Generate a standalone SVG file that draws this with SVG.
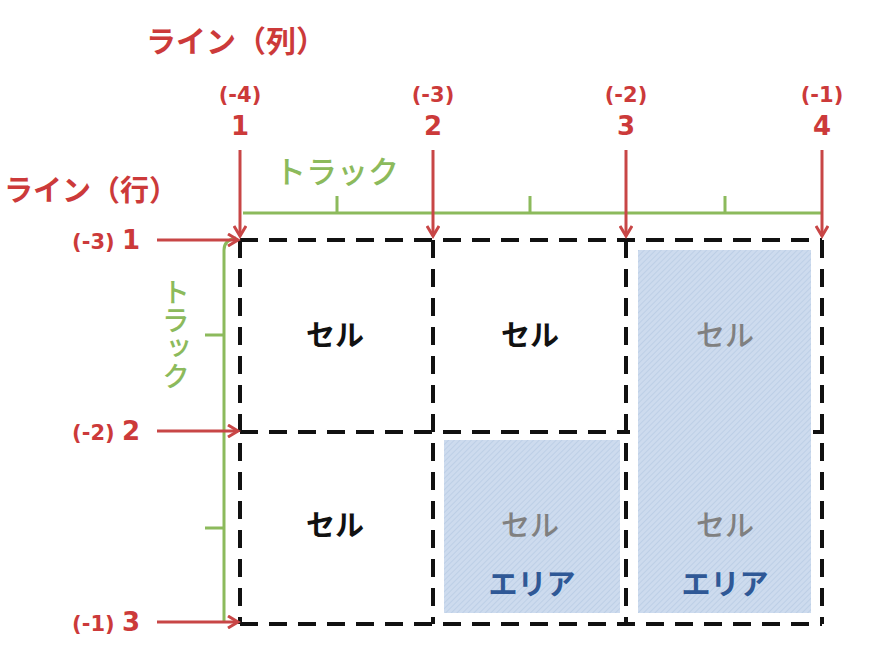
<svg xmlns="http://www.w3.org/2000/svg" width="870" height="660" viewBox="0 0 870 660">
<style>
.red{fill:#cc3a3a;font-family:"DejaVu Sans","Noto Sans CJK JP",sans-serif;font-weight:bold}
.jp{font-family:"Noto Sans CJK JP",sans-serif;font-weight:bold}
.rl{fill:#cc3a3a;font-size:30px}
.num{font-size:26px}
.par{font-size:21px}
.grn{fill:#8cba5c;font-size:31px;font-weight:500}
.cell{font-size:29px;fill:#111}
.gray{fill:#808080;font-weight:500}
.area{fill:#2f5896;font-size:29px}
.dash{stroke:#111;stroke-width:4;stroke-dasharray:18 11;fill:none}
.gl{stroke:#8cba5c;stroke-width:3;fill:none}
.arr{stroke:#c84646;stroke-width:3;fill:none;marker-end:url(#ah)}
</style>
<defs>
<marker id="ah" markerWidth="14" markerHeight="14" refX="11" refY="7" orient="auto" markerUnits="userSpaceOnUse">
<path d="M1,1 L11,7 L1,13" fill="none" stroke="#c84646" stroke-width="3"/>
</marker>
<pattern id="hatch" width="4" height="4" patternUnits="userSpaceOnUse" patternTransform="rotate(45)">
<rect width="4" height="4" fill="#cddbee"/>
<line x1="0" y1="0" x2="0" y2="4" stroke="#b8cbe4" stroke-width="1.5"/>
</pattern>
</defs>
<rect width="870" height="660" fill="#fff"/>

<g id="areas">
<rect x="444" y="440" width="176" height="173" fill="url(#hatch)"/>
<rect x="638" y="250" width="173" height="363" fill="url(#hatch)"/>
</g>

<g id="grid">
<path class="dash" d="M240,240 H822 M240,432 H630 M240,624 H822"/>
<path class="dash" d="M813,432 H824" style="stroke-dasharray:none"/>
<path class="dash" d="M240,240 V624 M433,240 V624 M626,240 V624 M822,240 V624"/>
</g>

<g id="tracks">
<path class="gl" d="M243,213 H822 M337,213 V196 M530,213 V196 M725,213 V196"/>
<path class="gl" d="M224,250 Q224,240 236,238 M224,250 V622 M224,335 H205 M224,528 H205"/>
<text class="jp grn" x="337" y="183" text-anchor="middle">トラック</text>
<text class="jp grn" x="176" y="278" style="font-size:28px;writing-mode:vertical-rl">トラック</text>
</g>

<g id="connectors">
<path class="arr" d="M240,150 V236"/>
<path class="arr" d="M433,150 V236"/>
<path class="arr" d="M626,150 V236"/>
<path class="arr" d="M822,150 V236"/>
<path class="arr" d="M157,240 H238"/>
<path class="arr" d="M157,431 H238"/>
<path class="arr" d="M157,622 H238"/>
</g>

<g id="labels">
<text class="jp rl" x="236" y="52" text-anchor="middle">ライン（列）</text>
<text class="jp rl" x="4" y="201" style="font-size:29px">ライン（行）</text>
<text class="red par" x="240" y="102" text-anchor="middle">(-4)</text>
<text class="red num" x="240" y="135" text-anchor="middle">1</text>
<text class="red par" x="433" y="102" text-anchor="middle">(-3)</text>
<text class="red num" x="433" y="135" text-anchor="middle">2</text>
<text class="red par" x="626" y="102" text-anchor="middle">(-2)</text>
<text class="red num" x="626" y="135" text-anchor="middle">3</text>
<text class="red par" x="822" y="102" text-anchor="middle">(-1)</text>
<text class="red num" x="822" y="135" text-anchor="middle">4</text>
<text class="red" x="140" y="249" text-anchor="end"><tspan class="par">(-3) </tspan><tspan class="num">1</tspan></text>
<text class="red" x="140" y="440" text-anchor="end"><tspan class="par">(-2) </tspan><tspan class="num">2</tspan></text>
<text class="red" x="140" y="631" text-anchor="end"><tspan class="par">(-1) </tspan><tspan class="num">3</tspan></text>
</g>

<g id="cell-1-1"><text class="jp cell" x="335" y="346" text-anchor="middle">セル</text></g>
<g id="cell-1-2"><text class="jp cell" x="530" y="346" text-anchor="middle">セル</text></g>
<g id="cell-1-3"><text class="jp cell gray" x="725" y="346" text-anchor="middle">セル</text></g>
<g id="cell-2-1"><text class="jp cell" x="335" y="536" text-anchor="middle">セル</text></g>
<g id="cell-2-2"><text class="jp cell gray" x="530" y="536" text-anchor="middle">セル</text><text class="jp area" x="532" y="595" text-anchor="middle">エリア</text></g>
<g id="cell-2-3"><text class="jp cell gray" x="725" y="536" text-anchor="middle">セル</text><text class="jp area" x="725" y="595" text-anchor="middle">エリア</text></g>
</svg>
